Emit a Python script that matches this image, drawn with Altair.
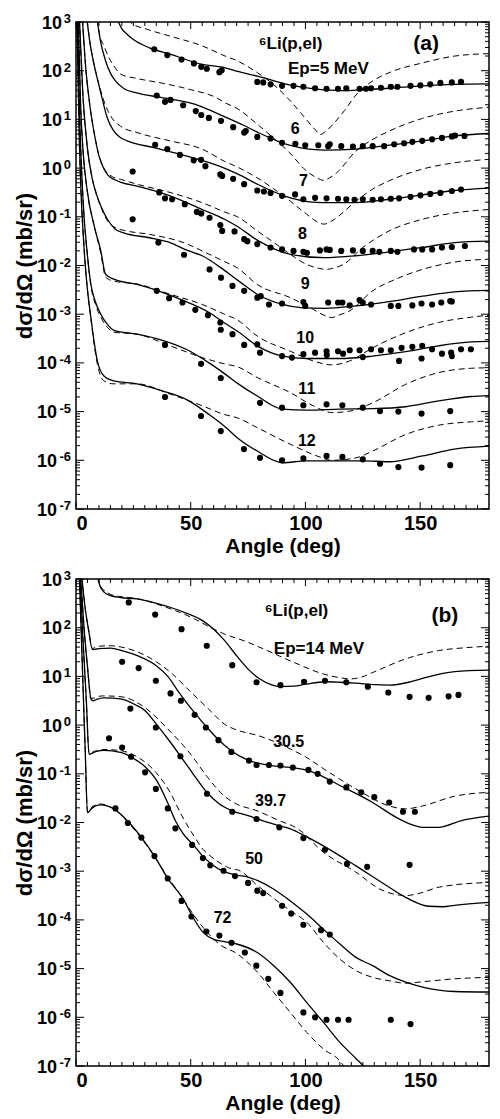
import altair as alt
import pandas as pd

# ---------------- Panel (a): (angle deg, log10 dsigma/dOmega) ----------------
A5_SOLID = [(18,3.05),(20,2.86),(22,2.76),(25,2.64),(32,2.47),(41,2.34),(55,2.13),(65,2.06),(70,1.99),(79,1.89),(93,1.71),(105,1.62),(115,1.59),(122,1.60),(136.5,1.64),(151,1.69),(165,1.72),(180,1.73)]
A5_DASH = [(22.5,3.05),(24,2.98),(31,2.85),(41,2.71),(55,2.51),(65,2.30),(70,2.21),(79,1.96),(86,1.72),(93,1.40),(100,1.02),(104,0.80),(106.5,0.69),(109,0.76),(112,0.90),(117,1.18),(122,1.50),(129,1.78),(136.5,1.96),(151,2.16),(165,2.30),(180,2.35)]
A5_DOTS = [(34.1,2.44),(39.8,2.32),(46.0,2.23),(51.4,2.15),(54.6,2.08),(57.0,2.04),(62.5,1.97),(63.5,2.01),(79.0,1.77),(81.6,1.76),(84.8,1.72),(89.8,1.69),(94.8,1.69),(99.1,1.67),(104.2,1.64),(109.2,1.63),(114.2,1.63),(117.8,1.64),(123.6,1.63),(126.4,1.63),(128.6,1.64),(132.9,1.65),(137.2,1.67),(140.1,1.67),(145.8,1.69),(150.1,1.70),(154.4,1.72),(158.8,1.75),(163.8,1.76),(167.8,1.77)]

A6_SOLID = [(9.2,3.05),(10.5,2.65),(12.9,2.20),(15,1.95),(17.2,1.79),(21,1.63),(26,1.55),(37,1.45),(52,1.31),(65,1.05),(73,0.88),(79,0.74),(93,0.47),(108,0.37),(122,0.39),(136.5,0.47),(151,0.56),(165,0.66),(180,0.71)]
A6_DASH = [(9.2,3.05),(10.5,2.7),(12.2,2.51),(14,2.3),(16.5,2.10),(19.4,1.93),(26.6,1.84),(38,1.74),(50,1.61),(61,1.45),(65,1.34),(70.4,1.22),(79,0.90),(86,0.62),(93,0.32),(100,-0.04),(105,-0.20),(107.8,-0.25),(110.5,-0.20),(113.5,-0.10),(122,0.35),(129,0.58),(136.5,0.76),(151,1.02),(165,1.17),(180,1.25)]
A6_DOTS = [(35.2,1.49),(38.8,1.36),(41.2,1.40),(46.7,1.29),(52.2,1.17),(54.6,1.09),(57.9,1.03),(63.2,0.97),(68.5,0.84),(73.3,0.73),(74.0,0.76),(79.0,0.64),(84.8,0.61),(89.8,0.52),(95.6,0.50),(99.9,0.47),(105.6,0.47),(109.9,0.45),(110.6,0.49),(115.6,0.45),(120.7,0.44),(125.0,0.45),(129.3,0.45),(134.3,0.45),(138.7,0.49),(143.0,0.51),(146.6,0.54),(150.9,0.56),(155.2,0.59),(159.5,0.62),(163.8,0.65),(165.2,0.67),(169.3,0.66)]

A7_SOLID = [(4.8,3.05),(6,2.6),(8,2.1),(10,1.7),(11.5,1.41),(13.5,1.05),(16.5,0.76),(19,0.64),(22.3,0.56),(34,0.42),(48,0.25),(62.5,0.04),(70.4,-0.12),(79,-0.33),(93.4,-0.61),(108,-0.71),(122,-0.71),(136.5,-0.64),(151,-0.55),(165,-0.46),(180,-0.41)]
A7_DASH = [(4.8,3.05),(6,2.6),(8,2.1),(10,1.72),(12,1.4),(15.1,1.07),(19.4,0.86),(26.6,0.73),(41,0.56),(55,0.39),(64.7,0.14),(70.4,0.02),(79,-0.20),(86,-0.42),(93.4,-0.68),(100.6,-0.95),(105,-1.10),(108,-1.15),(111,-1.10),(113.5,-1.02),(122,-0.68),(129,-0.44),(136.5,-0.26),(151,-0.02),(165,0.11),(180,0.18)]
A7_DOTS = [(34.5,0.48),(39.8,0.39),(45.3,0.27),(51.3,0.16),(54.5,0.17),(56.4,0.04),(62.9,-0.13),(63.7,-0.16),(68.5,-0.22),(73.3,-0.33),(79.0,-0.46),(81.9,-0.48),(84.8,-0.51),(89.8,-0.57),(95.5,-0.54),(99.1,-0.64),(104.2,-0.61),(109.2,-0.62),(114.2,-0.63),(117.8,-0.64),(121.4,-0.65),(125.0,-0.64),(129.3,-0.65),(132.9,-0.64),(137.2,-0.63),(140.8,-0.62),(145.8,-0.59),(150.1,-0.56),(154.4,-0.53),(158.8,-0.51),(163.8,-0.47),(167.8,-0.44)]

A8_SOLID = [(2.8,3.05),(4,2.2),(6,1.3),(8,0.7),(10,0.25),(12.2,-0.02),(14,-0.15),(16.5,-0.23),(20,-0.3),(26.6,-0.37),(41,-0.57),(55,-0.85),(64.7,-1.05),(70.4,-1.2),(79,-1.48),(93.4,-1.77),(108,-1.84),(122,-1.80),(136.5,-1.72),(151,-1.63),(165,-1.53),(180,-1.50)]
A8_DASH = [(2.8,3.05),(4,2.2),(6,1.3),(8,0.7),(10,0.27),(12.2,0.0),(16,-0.18),(19.4,-0.23),(26.6,-0.33),(41,-0.50),(55,-0.71),(64.7,-0.90),(70.4,-1.0),(79,-1.29),(86,-1.52),(93.4,-1.77),(100.6,-1.98),(106,-2.06),(109.2,-2.08),(112.5,-2.05),(116.4,-1.98),(125,-1.63),(136.5,-1.29),(151,-1.05),(165,-0.92),(180,-0.85)]
A8_DOTS = [(24.7,-0.07),(36.3,-0.50),(38.8,-0.62),(41.9,-0.64),(47.4,-0.74),(52.7,-0.90),(54.6,-0.93),(58.2,-1.02),(62.9,-1.17),(63.7,-1.29),(69.1,-1.30),(73.3,-1.46),(74.7,-1.50),(79.0,-1.56),(84.8,-1.63),(89.8,-1.67),(94.8,-1.70),(99.1,-1.72),(100.6,-1.74),(106.3,-1.69),(109.2,-1.67),(110.6,-1.68),(115.6,-1.70),(120.7,-1.69),(125.0,-1.70),(129.3,-1.70),(132.2,-1.72),(137.2,-1.70),(140.1,-1.72),(147.3,-1.67),(150.9,-1.67),(155.2,-1.67),(159.5,-1.63),(163.8,-1.62),(169.5,-1.60)]

A9_SOLID = [(1.5,3.05),(3,1.5),(5,0.4),(7,-0.2),(9,-0.55),(11,-0.8),(13.7,-1.05),(17,-1.25),(20.8,-1.33),(32,-1.43),(41,-1.53),(48,-1.68),(55,-1.80),(64.7,-2.10),(70.4,-2.30),(79,-2.59),(90,-2.80),(99,-2.87),(108,-2.88),(122,-2.83),(136.5,-2.74),(151,-2.63),(165,-2.54),(180,-2.51)]
A9_DASH = [(1.5,3.05),(3,1.5),(5,0.4),(7,-0.2),(9,-0.55),(11,-0.82),(13.7,-1.08),(17,-1.22),(21,-1.28),(32,-1.36),(48,-1.55),(55,-1.70),(64.7,-1.92),(70.4,-2.05),(79,-2.39),(93.4,-2.66),(103.4,-2.90),(108,-3.02),(111.4,-3.07),(114.5,-3.02),(119.3,-2.93),(129.3,-2.52),(139.4,-2.28),(151,-2.08),(165,-1.93),(180,-1.87)]
A9_DOTS = [(24.7,-1.05),(35.9,-1.53),(47.1,-1.78),(58.2,-2.08),(63.2,-2.25),(68.2,-2.42),(73.3,-2.52),(79.0,-2.66),(80.5,-2.63),(84.1,-2.80),(89.8,-2.78),(99.1,-2.75),(99.9,-2.83),(109.9,-2.76),(114.2,-2.76),(116.1,-2.76),(119.3,-2.82),(123.6,-2.71),(125.0,-2.76),(128.6,-2.80),(137.2,-2.83),(140.5,-2.83),(146.6,-2.82),(150.6,-2.78),(155.2,-2.80),(159.2,-2.76),(163.1,-2.73),(163.8,-2.74)]

A10_SOLID = [(1.0,3.05),(2,1.3),(3,0.4),(5,-0.5),(8,-1.2),(10.8,-1.70),(12.9,-2.18),(16.5,-2.28),(26.6,-2.39),(35.2,-2.51),(45.3,-2.69),(58.2,-2.97),(64.7,-3.18),(70.4,-3.35),(79,-3.65),(90,-3.86),(100.6,-3.91),(115,-3.91),(129.3,-3.86),(143.7,-3.77),(158,-3.65),(172.4,-3.57),(180,-3.56)]
A10_DASH = [(1.0,3.05),(2,1.3),(3,0.4),(5,-0.5),(8,-1.2),(10.8,-1.75),(12.9,-2.24),(16.5,-2.32),(26.6,-2.38),(41,-2.59),(55,-2.80),(64.7,-3.0),(70.4,-3.12),(79,-3.45),(93.4,-3.76),(103.4,-3.96),(111.4,-4.04),(119.3,-3.96),(129.3,-3.69),(143.7,-3.38),(158,-3.17),(172.4,-3.06),(180,-3.02)]
A10_DOTS = [(35.2,-2.52),(40.6,-2.67),(46.4,-2.76),(52.0,-2.91),(57.5,-3.02),(62.9,-3.17),(63.1,-3.32),(68.2,-3.41),(73.3,-3.63),(79.0,-3.62),(80.2,-3.79),(89.8,-3.86),(94.1,-3.89),(99.1,-3.82),(104.2,-3.79),(109.2,-3.76),(109.3,-3.84),(114.2,-3.76),(116.4,-3.81),(119.3,-3.74),(123.6,-3.74),(125.0,-3.88),(128.6,-3.72),(132.9,-3.74),(137.2,-3.74),(140.8,-3.96),(141.9,-3.69),(146.6,-3.67),(150.6,-3.91),(150.9,-3.65),(155.2,-3.72),(159.5,-3.81),(163.5,-3.79),(163.8,-3.86),(167.8,-3.72),(172.1,-3.72)]

A11_SOLID = [(0.6,3.05),(1.5,1.2),(3,-0.6),(5,-1.8),(6.5,-2.39),(8.5,-2.75),(10.8,-3.00),(13.7,-3.21),(16.5,-3.33),(26.6,-3.41),(36.6,-3.52),(48,-3.72),(58,-4.00),(64.7,-4.22),(70.4,-4.42),(79,-4.68),(90,-4.95),(100.6,-4.97),(115,-4.95),(129.3,-4.94),(143.7,-4.90),(158,-4.78),(172.4,-4.69),(180,-4.67)]
A11_DASH = [(0.6,3.05),(1.5,1.2),(3,-0.6),(5,-1.8),(6.5,-2.42),(8.5,-2.8),(10.8,-3.06),(13.7,-3.27),(16.5,-3.37),(26.6,-3.41),(41,-3.65),(55,-3.89),(64.7,-4.02),(70.4,-4.08),(79,-4.30),(93.4,-4.61),(103.4,-4.88),(111.4,-5.02),(119.3,-4.99),(129.3,-4.82),(143.7,-4.44),(158,-4.20),(172.4,-4.11),(180,-4.10)]
A11_DOTS = [(38.8,-3.63),(54.5,-4.02),(63.1,-4.31),(80.2,-4.82),(89.8,-4.92),(99.1,-4.87),(109.2,-4.85),(116.1,-4.87),(125.0,-4.92),(132.5,-4.99),(140.5,-5.00),(150.6,-5.04),(163.1,-4.99)]

A12_SOLID = [(0.4,3.05),(1.5,0.5),(3.6,-1.70),(5,-2.5),(6.5,-3.07),(8,-3.6),(9.3,-3.96),(12.2,-4.27),(16.5,-4.37),(26.6,-4.43),(38,-4.58),(48,-4.75),(58,-5.06),(64.7,-5.30),(70.4,-5.54),(79,-5.81),(90,-6.05),(100.6,-6.01),(115,-6.01),(125,-6.01),(136.5,-6.03),(151,-5.91),(165,-5.77),(180,-5.71)]
A12_DASH = [(0.4,3.05),(1.5,0.5),(3.6,-1.70),(5,-2.5),(6.5,-3.1),(8,-3.65),(9.3,-4.02),(12.2,-4.37),(16.5,-4.43),(26.6,-4.43),(41,-4.64),(55,-4.88),(64.7,-5.06),(70.4,-5.13),(79,-5.33),(93.4,-5.67),(105,-5.91),(111.4,-6.00),(122,-5.95),(129.3,-5.81),(143.7,-5.47),(158,-5.28),(172.4,-5.21),(180,-5.19)]
A12_DOTS = [(38.8,-4.70),(54.5,-5.09),(63.1,-5.40),(73.2,-5.77),(80.2,-5.95),(89.8,-6.00),(99.1,-5.96),(109.2,-5.91),(116.1,-5.93),(125.0,-5.98),(132.5,-6.07),(140.5,-6.14),(150.6,-6.15),(163.1,-6.10)]

LABELS_A = [("\u2076Li(p,el)", 93.5, 2.55, 17), ("(a)", 152.6, 2.55, 21), ("Ep=5 MeV", 110.0, 2.03, 17),
            ("6", 95.5, 0.80, 16), ("7", 99.1, -0.27, 16), ("8", 98.7, -1.36, 16), ("9", 99.9, -2.39, 16),
            ("10", 99.9, -3.48, 16), ("11", 100.6, -4.54, 16), ("12", 100.6, -5.60, 16)]

# ---------------- Panel (b) ----------------
B14_SOLID = [(9.3,3.05),(10.5,2.85),(12.2,2.73),(15,2.66),(19.4,2.62),(26.6,2.59),(35,2.50),(41,2.42),(48,2.30),(55.3,2.14),(60,1.97),(64.7,1.74),(70.4,1.40),(75,1.15),(80,0.95),(85,0.83),(89,0.79),(95,0.80),(100,0.84),(109,0.89),(115,0.88),(122,0.86),(130,0.83),(136.5,0.82),(145,0.88),(151,0.96),(165,1.10),(180,1.13)]
B14_DASH = [(9.6,3.05),(10.5,2.88),(12,2.78),(14.4,2.70),(19,2.64),(23,2.62),(30,2.56),(37.4,2.45),(45,2.32),(51.7,2.18),(58,2.02),(64.7,1.87),(73.3,1.73),(79,1.62),(93.4,1.32),(107.8,1.05),(114,0.98),(120,0.95),(124,0.98),(129.3,1.08),(143.7,1.36),(158,1.53),(170,1.59),(180,1.62)]
B14_DOTS = [(23.0,2.52),(34.5,2.27),(46.0,1.97),(57.0,1.63),(68.1,1.23),(78.7,0.88),(89.1,0.82),(99.4,0.89),(108.5,0.91),(117.8,0.88),(127.2,0.79),(136.1,0.67),(145.4,0.58),(153.7,0.56),(162.4,0.59),(166.7,0.62)]

B30_SOLID = [(2.5,3.05),(4,2.4),(5.5,1.95),(7.2,1.55),(8.5,1.56),(10,1.57),(15,1.58),(20,1.53),(27,1.42),(35,1.22),(40,1.00),(45,0.66),(51.7,0.25),(56.6,-0.02),(62.1,-0.30),(67.8,-0.53),(75,-0.72),(85,-0.83),(93.4,-0.87),(100,-0.92),(105,-1.0),(115,-1.24),(129.3,-1.59),(139.4,-1.89),(146,-2.04),(151,-2.10),(158,-2.10),(168,-1.96),(180,-1.87)]
B30_DASH = [(2.5,3.05),(4,2.4),(5.5,1.95),(7.2,1.57),(8.5,1.60),(10,1.62),(15,1.63),(20,1.60),(27,1.50),(35,1.30),(42,1.05),(50,0.68),(58,0.32),(64.7,0.02),(70,-0.10),(79,-0.21),(86,-0.33),(93.4,-0.49),(100,-0.65),(108,-0.90),(122,-1.31),(136.5,-1.66),(143.7,-1.72),(151,-1.66),(165,-1.46),(180,-1.38)]
B30_DOTS = [(20.1,1.30),(27.3,1.17),(34.8,0.91),(41.2,0.65),(45.7,0.50),(51.7,0.21),(56.6,-0.05),(62.1,-0.31),(67.7,-0.55),(75.4,-0.73),(78.7,-0.82),(84.1,-0.82),(89.1,-0.83),(94.5,-0.87),(101.3,-0.92),(105.3,-1.00),(110.6,-1.16),(117.8,-1.28),(124.3,-1.38),(130.0,-1.48),(136.5,-1.59),(142.5,-1.78),(147.7,-1.78)]

B39_SOLID = [(2.0,3.05),(3.5,2.0),(5,1.2),(6.5,0.54),(7.5,0.50),(9,0.53),(12.2,0.56),(19.4,0.54),(26.6,0.40),(30,0.30),(35,0.02),(40,-0.28),(45.3,-0.62),(51,-1.0),(57,-1.38),(62.5,-1.62),(68,-1.76),(75,-1.86),(80,-1.94),(88.8,-2.07),(93.4,-2.13),(100,-2.28),(107.8,-2.48),(122,-2.89),(136.5,-3.33),(145,-3.57),(153.7,-3.72),(160,-3.73),(165,-3.70),(180,-3.64)]
B39_DASH = [(2.0,3.05),(3.5,2.0),(5,1.2),(6.5,0.56),(7.5,0.55),(9,0.58),(12,0.60),(20,0.58),(30,0.36),(40,-0.08),(50,-0.60),(57,-1.05),(64.7,-1.46),(70,-1.62),(79,-1.76),(88,-1.95),(96.7,-2.13),(107.8,-2.61),(122,-3.02),(132.5,-3.37),(143.7,-3.50),(150,-3.45),(158,-3.33),(180,-3.23)]
B39_DOTS = [(23.7,0.34),(34.8,-0.05),(45.5,-0.64),(57.1,-1.41),(68.1,-1.78),(78.7,-1.93),(88.6,-2.10),(99.1,-2.32),(108.5,-2.56),(118.1,-2.85),(126.9,-2.91),(145.4,-2.87)]

B50_SOLID = [(1.7,3.05),(3,1.8),(4.5,0.5),(5.7,-0.60),(7,-0.58),(9,-0.54),(12.2,-0.52),(19.4,-0.56),(26.6,-0.73),(30,-0.85),(35.2,-1.14),(40,-1.60),(43.5,-1.98),(47,-2.25),(51,-2.45),(55,-2.68),(59,-2.85),(64,-3.0),(70,-3.08),(75,-3.12),(79,-3.19),(86.2,-3.37),(93.4,-3.61),(100.6,-3.88),(107.8,-4.19),(114.9,-4.49),(122,-4.77),(129.3,-4.94),(136.5,-5.14),(143.7,-5.28),(151,-5.38),(165,-5.47),(180,-5.48)]
B50_DASH = [(1.7,3.05),(3,1.8),(4.5,0.5),(5.7,-0.58),(7,-0.56),(9,-0.52),(12.2,-0.50),(20,-0.53),(27,-0.66),(35,-0.98),(41,-1.38),(46,-1.85),(51.7,-2.30),(55.3,-2.55),(58.9,-2.70),(66,-2.92),(71.8,-3.0),(79,-3.29),(93.4,-3.81),(100.6,-4.05),(107.8,-4.46),(114.9,-4.80),(122,-5.04),(129.3,-5.18),(136.5,-5.25),(143.7,-5.30),(151,-5.27),(165,-5.21),(180,-5.18)]
B50_DOTS = [(14.4,-0.27),(20.1,-0.46),(24.0,-0.65),(30.1,-0.97),(34.8,-1.31),(40.0,-1.71),(43.3,-2.12),(50.6,-2.46),(55.3,-2.73),(58.5,-2.88),(64.3,-2.99),(69.3,-3.10),(75.0,-3.24),(79.0,-3.40),(81.6,-3.45),(89.8,-3.71),(93.8,-3.87),(99.1,-4.10),(106.8,-4.21),(110.6,-4.30)]

B72_SOLID = [(1.5,3.05),(2.7,1.3),(4,-0.5),(5,-1.80),(6.5,-1.73),(8.5,-1.66),(10.8,-1.64),(13.5,-1.66),(16.5,-1.72),(22.3,-1.96),(28.4,-2.30),(34.2,-2.69),(40,-3.15),(46.7,-3.57),(51,-3.95),(55.3,-4.25),(60,-4.40),(65,-4.45),(70.4,-4.50),(79,-4.67),(86.2,-4.94),(93.4,-5.28),(100.6,-5.70),(107.8,-6.10),(114.9,-6.51),(122.1,-6.85),(125,-6.99),(127,-7.12)]
B72_DASH = [(1.5,3.05),(2.7,1.3),(4,-0.5),(5,-1.78),(6.5,-1.70),(8.5,-1.64),(10.8,-1.62),(13.5,-1.65),(16.5,-1.72),(22.3,-1.98),(28.4,-2.32),(34.2,-2.70),(40,-3.12),(46,-3.52),(51,-3.88),(55.3,-4.15),(62.5,-4.50),(70.4,-4.70),(79,-5.07),(86.2,-5.49),(93.4,-5.90),(100.6,-6.31),(107.8,-6.65),(114.9,-6.89),(117,-7.02)]
B72_DOTS = [(17.2,-1.71),(22.6,-2.01),(28.5,-2.31),(34.2,-2.69),(40.0,-3.15),(46.0,-3.61),(50.3,-3.93),(56.8,-4.24),(62.5,-4.32),(67.8,-4.47),(73.6,-4.67),(78.6,-4.94),(83.8,-5.21),(89.1,-5.50),(99.1,-5.90),(104.2,-6.00),(109.2,-6.05),(114.2,-6.05),(118.8,-6.05),(137.2,-6.05),(145.8,-6.14)]

LABELS_B = [("\u2076Li(p,el)", 96.1, 2.35, 17), ("(b)", 160.8, 2.25, 21), ("Ep=14 MeV", 105.9, 1.56, 17),
            ("30.5", 92.7, -0.35, 16), ("39.7", 84.8, -1.55, 16), ("50", 77.6, -2.74, 16), ("72", 63.9, -3.97, 16)]

# axis tick labels: powers of ten with exponent text
Y_EXP_POS = [0, 1, 2, 3]
Y_EXP_NEG = [-1, -2, -3, -4, -5, -6, -7]
X_MAJOR = [0, 50, 100, 150]
X_MINOR = [d for d in range(5, 180, 5) if d % 50 != 0]
Y_MAJOR = [10.0 ** k for k in range(-7, 4)]
Y_MINOR = [m * 10.0 ** k for k in range(-7, 3) for m in range(2, 10)]

W, H = 413, 487
FONT = "Liberation Sans"
XS = alt.Scale(domain=[0, 180], nice=False, zero=False)
YS = alt.Scale(type="log", domain=[1e-7, 1e3], nice=False)

XAX = alt.Axis(values=X_MAJOR, title="Angle (deg)", labelFontSize=20, titleFontSize=21,
               labelPadding=4, titlePadding=2)
YAX = alt.Axis(values=Y_MAJOR, labels=False, title="d\u03c3/d\u03a9 (mb/sr)",
               titleFontSize=22, titlePadding=40)


def frame(series):
    rows = []
    for key, pairs in series.items():
        for d, l in pairs:
            rows.append({"s": key, "deg": d, "L": l})
    return pd.DataFrame(rows)


def panel(solid, dashed, dots, labels):
    xenc = alt.X("deg:Q", scale=XS, axis=XAX)
    yenc = alt.Y("v:Q", scale=YS, axis=YAX)
    calc = "pow(10, datum.L)"

    solid_layer = alt.Chart(frame(solid)).transform_calculate(v=calc).mark_line(
        color="black", strokeWidth=1.3, clip=True, interpolate="monotone"
    ).encode(x=xenc, y=yenc, detail="s:N", order="deg:Q")
    dash_layer = alt.Chart(frame(dashed)).transform_calculate(v=calc).mark_line(
        color="black", strokeWidth=1.0, strokeDash=[6, 4], clip=True, interpolate="monotone"
    ).encode(x=xenc, y=yenc, detail="s:N", order="deg:Q")
    dot_layer = alt.Chart(frame(dots)).transform_calculate(v=calc).mark_circle(
        color="black", opacity=1, size=38, clip=True
    ).encode(x=xenc, y=yenc)
    lab = pd.DataFrame([{"t": t, "deg": d, "L": l, "fs": fs} for t, d, l, fs in labels])
    text_layer = alt.Chart(lab).transform_calculate(v=calc).mark_text(
        font=FONT, fontWeight="bold", color="black", align="center", baseline="middle"
    ).encode(x=xenc, y=yenc, text="t:N", size=alt.Size("fs:Q", scale=None, legend=None))

    # y tick labels "10" + exponent
    epos = pd.DataFrame({"k": Y_EXP_POS, "e": [str(k) for k in Y_EXP_POS]})
    eneg = pd.DataFrame({"k": Y_EXP_NEG, "e": [str(k) for k in Y_EXP_NEG]})
    ten_pos = alt.Chart(epos).transform_calculate(v="pow(10, datum.k)").mark_text(
        font=FONT, fontWeight="bold", fontSize=18, align="right", baseline="alphabetic", dy=6.5, color="black"
    ).encode(y=yenc, x=alt.value(-14), text=alt.value("10"))
    ten_neg = alt.Chart(eneg).transform_calculate(v="pow(10, datum.k)").mark_text(
        font=FONT, fontWeight="bold", fontSize=18, align="right", baseline="alphabetic", dy=6.5, color="black"
    ).encode(y=yenc, x=alt.value(-19), text=alt.value("10"))
    exps = alt.Chart(pd.concat([epos, eneg])).transform_calculate(v="pow(10, datum.k)").mark_text(
        font=FONT, fontWeight="bold", fontSize=13, align="right", baseline="alphabetic", dy=1, color="black"
    ).encode(y=yenc, x=alt.value(-5), text="e:N")

    xt_major = pd.DataFrame({"deg": X_MAJOR})
    xt_minor = pd.DataFrame({"deg": X_MINOR})
    yt_major = pd.DataFrame({"v": Y_MAJOR})
    yt_minor = pd.DataFrame({"v": Y_MINOR})

    def xt(df, ln):
        b = alt.Chart(df).mark_rule(color="black", strokeWidth=1).encode(x=xenc, y=alt.value(H), y2=alt.value(H - ln))
        t = alt.Chart(df).mark_rule(color="black", strokeWidth=1).encode(x=xenc, y=alt.value(0), y2=alt.value(ln))
        return [b, t]

    def yt(df, ln):
        l = alt.Chart(df).mark_rule(color="black", strokeWidth=1).encode(y=yenc, x=alt.value(0), x2=alt.value(ln))
        r = alt.Chart(df).mark_rule(color="black", strokeWidth=1).encode(y=yenc, x=alt.value(W), x2=alt.value(W - ln))
        return [l, r]

    layers = ([solid_layer, dash_layer, dot_layer, text_layer, ten_pos, ten_neg, exps]
              + xt(xt_major, 7) + xt(xt_minor, 4) + yt(yt_major, 8) + yt(yt_minor, 4))
    return alt.layer(*layers).properties(width=W, height=H)


pa = panel({"5": A5_SOLID, "6": A6_SOLID, "7": A7_SOLID, "8": A8_SOLID, "9": A9_SOLID, "10": A10_SOLID, "11": A11_SOLID, "12": A12_SOLID},
           {"5": A5_DASH, "6": A6_DASH, "7": A7_DASH, "8": A8_DASH, "9": A9_DASH, "10": A10_DASH, "11": A11_DASH, "12": A12_DASH},
           {"5": A5_DOTS, "6": A6_DOTS, "7": A7_DOTS, "8": A8_DOTS, "9": A9_DOTS, "10": A10_DOTS, "11": A11_DOTS, "12": A12_DOTS},
           LABELS_A)
pb = panel({"14": B14_SOLID, "30.5": B30_SOLID, "39.7": B39_SOLID, "50": B50_SOLID, "72": B72_SOLID},
           {"14": B14_DASH, "30.5": B30_DASH, "39.7": B39_DASH, "50": B50_DASH, "72": B72_DASH},
           {"14": B14_DOTS, "30.5": B30_DOTS, "39.7": B39_DOTS, "50": B50_DOTS, "72": B72_DOTS},
           LABELS_B)

chart = alt.vconcat(pa, pb, spacing=12).properties(
    padding={"left": 4, "top": 4, "right": 0, "bottom": 0}, background="white"
).configure_axis(
    domain=False, ticks=False, grid=False, labelFont=FONT, titleFont=FONT, labelFontWeight="bold",
    titleFontWeight="bold", labelColor="black", titleColor="black"
).configure_view(stroke="black", strokeWidth=1.5)

chart.save("out.html", embed_options={"renderer": "svg", "actions": False})
